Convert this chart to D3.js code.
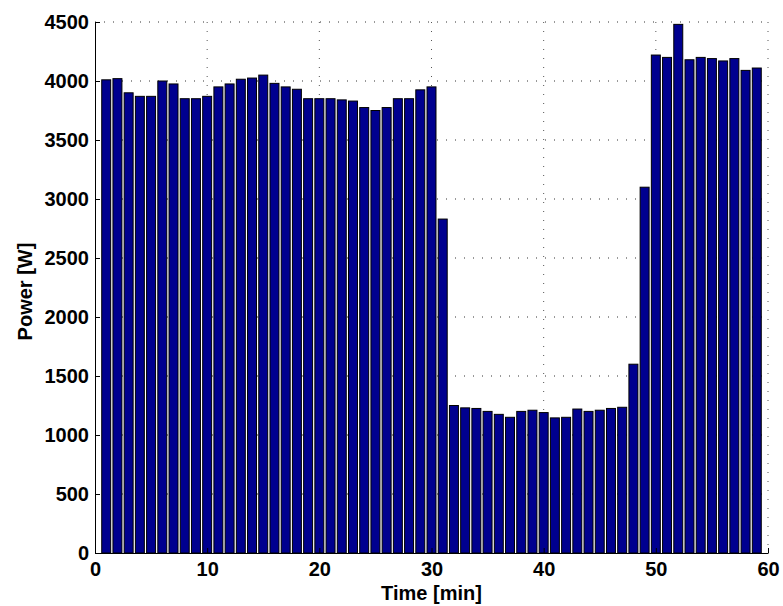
<!DOCTYPE html>
<html>
<head>
<meta charset="utf-8">
<script src="https://cdn.jsdelivr.net/npm/d3@7"></script>
<style>
  body { margin: 0; background: #fff; }
  text { font-family: "Liberation Sans", Arial, Helvetica, sans-serif; font-weight: bold; }
</style>
</head>
<body>
<script>
// minutes (bar positions)
var minutes = [1, 2, 3, 4, 5, 6, 7, 8, 9, 10,
    11, 12, 13, 14, 15, 16, 17, 18, 19, 20,
    21, 22, 23, 24, 25, 26, 27, 28, 29, 30,
    31, 32, 33, 34, 35, 36, 37, 38, 39, 40,
    41, 42, 43, 44, 45, 46, 47, 48, 49, 50,
    51, 52, 53, 54, 55, 56, 57, 58, 59];

// power in W for each minute
var power = [4010, 4020, 3900, 3870, 3870, 4000, 3975, 3850, 3850, 3870,
    3950, 3975, 4015, 4025, 4050, 3980, 3950, 3930, 3850, 3850,
    3850, 3840, 3830, 3775, 3750, 3775, 3850, 3850, 3925, 3950,
    2830, 1250, 1230, 1225, 1200, 1175, 1150, 1200, 1210, 1190,
    1145, 1150, 1220, 1200, 1210, 1225, 1235, 1600, 3100, 4220,
    4200, 4480, 4180, 4200, 4190, 4170, 4190, 4090, 4110];

var xTicks = [0, 10, 20, 30, 40, 50, 60];
var yTicks = [0, 500, 1000, 1500, 2000, 2500, 3000, 3500, 4000, 4500];

var svgWidth = 783,
    svgHeight = 606,
    margin = {left: 95, top: 22},
    width = 673,
    height = 531;

var svg = d3.select('body').append('svg')
    .attr("width", svgWidth)
    .attr("height", svgHeight);

var g = svg.append("g")
    .attr("transform", "translate(" + margin.left + "," + margin.top + ")");

var xScale = d3.scaleLinear().domain([0, 60]).range([0, width]);
var yScale = d3.scaleLinear().domain([0, 4500]).range([height, 0]);

// dotted grid behind the bars
g.selectAll(".hgrid")
    .data(yTicks.slice(1))
    .enter().append("line")
    .attr("x1", 0).attr("x2", width)
    .attr("y1", d => yScale(d)).attr("y2", d => yScale(d))
    .attr("stroke", "#333")
    .attr("stroke-dasharray", "1,8");
g.selectAll(".vgrid")
    .data(xTicks.slice(1))
    .enter().append("line")
    .attr("x1", d => xScale(d)).attr("x2", d => xScale(d))
    .attr("y1", 0).attr("y2", height)
    .attr("stroke", "#555")
    .attr("stroke-dasharray", "1,8");

// bars, width 0.8 like matlab
var barWidth = xScale(0.8) - xScale(0);
g.selectAll("rect")
    .data(minutes)
    .enter()
    .append("rect")
    .attr("x", d => xScale(d) - barWidth / 2)
    .attr("y", (d, i) => yScale(power[i]))
    .attr("width", barWidth)
    .attr("height", (d, i) => height - yScale(power[i]))
    .attr("fill", "#00008f")
    .attr("stroke", "#000")
    .attr("stroke-width", 1);

// axes with inside ticks
var yAxis = d3.axisLeft(yScale).tickValues(yTicks)
    .tickSizeInner(-5).tickSizeOuter(0).tickPadding(6)
    .tickFormat(d3.format("d"));
var xAxis = d3.axisBottom(xScale).tickValues(xTicks)
    .tickSizeInner(-5).tickSizeOuter(0).tickPadding(9)
    .tickFormat(d3.format("d"));

var ya = g.append("g").call(yAxis);
var xa = g.append("g")
    .attr("transform", "translate(0," + height + ")")
    .call(xAxis);

[ya, xa].forEach(a => {
    a.selectAll("text")
        .attr("fill", "#000")
        .style("font-size", "20px")
        .style("font-family", "'Liberation Sans', Arial, sans-serif")
        .style("font-weight", "bold");
    a.select(".domain").attr("stroke", "#000");
    a.selectAll(".tick line").attr("stroke", "#000");
});

// axis titles
svg.append("text")
    .attr("x", margin.left + width / 2)
    .attr("y", 600)
    .attr("text-anchor", "middle")
    .style("font-size", "20px")
    .text("Time [min]");

svg.append("text")
    .attr("transform", "translate(32," + (margin.top + height / 2 + 4) + ") rotate(-90)")
    .attr("text-anchor", "middle")
    .style("font-size", "20px")
    .text("Power [W]");
</script>
</body>
</html>
